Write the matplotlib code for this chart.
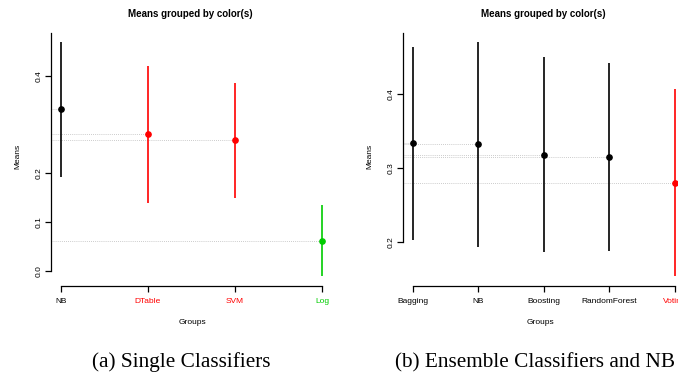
import matplotlib
matplotlib.use("Agg")
import matplotlib.pyplot as plt

plt.rcParams["font.family"] = ["Liberation Sans", "DejaVu Sans"]

# left panel: single classifiers
single_groups = ["NB", "DTable", "SVM", "Log"]
single_means = [0.332, 0.280, 0.268, 0.062]
single_upper = [0.469, 0.420, 0.386, 0.135]
single_lower = [0.193, 0.140, 0.149, -0.010]
single_colors = ["black", "#FF0000", "#FF0000", "#00CC00"]
single_yticks = [0.0, 0.1, 0.2, 0.4]

# right panel: ensemble classifiers and NB
ens_groups = ["Bagging", "NB", "Boosting", "RandomForest", "Voting"]
ens_means = [0.334, 0.332, 0.318, 0.315, 0.280]
ens_upper = [0.464, 0.471, 0.450, 0.443, 0.407]
ens_lower = [0.202, 0.193, 0.186, 0.188, 0.153]
ens_colors = ["black", "black", "black", "black", "#FF0000"]
ens_yticks = [0.2, 0.3, 0.4]

W, H = 678, 375
fig = plt.figure(figsize=(W / 100, H / 100), dpi=100)


def px_axes(left, top, right, bottom):
    return fig.add_axes([left / W, 1 - bottom / H, (right - left) / W, (bottom - top) / H])


def draw_panel(ax, groups, means, upper, lower, colors, yticks, xlim, ylim, ytop):
    ax.set_xlim(*xlim)
    ax.set_ylim(*ylim)
    x = list(range(len(groups)))
    for i in x:
        ax.hlines(means[i], xlim[0], i, colors="#BBBBBB", linestyles=(0, (1, 1.5)), lw=0.6, zorder=1)
        ax.vlines(i, lower[i], upper[i], colors=colors[i], lw=1.2, zorder=2)
        ax.plot(i, means[i], "o", color=colors[i], ms=3.8, zorder=3)
    for s in ["top", "right"]:
        ax.spines[s].set_visible(False)
    ax.spines["left"].set_bounds(yticks[0], ytop)
    ax.spines["bottom"].set_bounds(0, len(groups) - 1)
    for s in ["left", "bottom"]:
        ax.spines[s].set_linewidth(0.9)
    ax.set_yticks(yticks)
    ax.set_yticklabels(["%.1f" % v for v in yticks], rotation=90, va="center", fontsize=6)
    ax.set_xticks(x)
    ax.set_xticklabels(groups, fontsize=6)
    for lab, c in zip(ax.get_xticklabels(), colors):
        lab.set_color(c)
    ax.tick_params(axis="x", length=4, width=0.9, pad=5)
    ax.tick_params(axis="y", length=4, width=0.9, pad=2)
    ax.set_xlabel("Groups", fontsize=6, labelpad=10)
    ax.set_ylabel("Means", fontsize=6, labelpad=10)
    ax.patch.set_visible(False)


ax1 = px_axes(50.7, 28, 335, 285.7)
draw_panel(ax1, single_groups, single_means, single_upper, single_lower, single_colors,
           single_yticks, (-0.118, 3.15), (-0.0302, 0.498), 0.488)
ax1.set_title("Means grouped by color(s)", fontsize=7, fontweight="bold", x=0.492, pad=8)

ax2 = px_axes(402.7, 28, 678, 285.7)
draw_panel(ax2, ens_groups, ens_means, ens_upper, ens_lower, ens_colors,
           ens_yticks, (-0.158, 4.05), (0.1403, 0.490), 0.4837)
ax2.set_title("Means grouped by color(s)", fontsize=7, fontweight="bold", x=0.51, pad=8)

fig.text(181.5 / W, 1 - 367.5 / H, "(a) Single Classifiers", family="Liberation Serif",
         fontsize=15.3, ha="center", va="baseline")
fig.text(535 / W, 1 - 367.5 / H, "(b) Ensemble Classifiers and NB", family="Liberation Serif",
         fontsize=15.3, ha="center", va="baseline")

fig.savefig("out.png", dpi=100)
